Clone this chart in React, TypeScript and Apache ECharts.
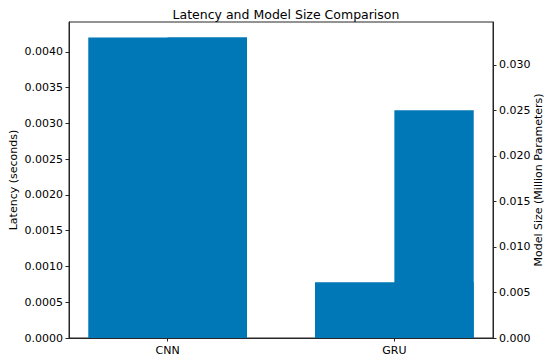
import React, { useEffect, useRef } from "react";
import * as echarts from "echarts";

const categories = ["CNN", "GRU"];
const latency = [0.0042, 0.00078];
const modelSize = [0.033, 0.025];
const latencyTicks = [0, 0.0005, 0.001, 0.0015, 0.002, 0.0025, 0.003, 0.0035, 0.004];
const sizeTicks = [0, 0.005, 0.01, 0.015, 0.02, 0.025, 0.03];

const BAR_COLOR = "#0077b6";
const FONT = "DejaVu Sans";

export default function App() {
  const ref = useRef<HTMLDivElement>(null);
  useEffect(() => {
    if (!ref.current) return;
    const chart = echarts.init(ref.current, undefined, { renderer: "svg" });
    const latMax = Math.max(...latency) * 1.0514;
    const sizeMax = Math.max(...modelSize) * 1.0514;
    const n = categories.length;
    const xMin = -0.35 - 0.05 * (n - 1 + 0.7);
    const xMax = n - 1 + 0.35 + 0.05 * (n - 1 + 0.7);
    const latData = latency.map((v, i) => [i - 0.35, i + 0.35, v]);
    const sizeData = modelSize.map((v, i) => [i, i + 0.35, v]);
    const renderRect = (params: any, api: any) => {
      const x0 = api.value(0);
      const x1 = api.value(1);
      const v = api.value(2);
      const p0 = api.coord([x0, 0]);
      const p1 = api.coord([x1, v]);
      return {
        type: "rect",
        shape: { x: p0[0], y: p1[1], width: p1[0] - p0[0], height: p0[1] - p1[1] },
        style: { fill: BAR_COLOR },
      };
    };
    const axisLineStyle = { color: "#262626", width: 1 };
    const labelStyle = { fontFamily: FONT, fontSize: 11, color: "#000" };
    chart.setOption({
      animation: false,
      title: {
        text: "Latency and Model Size Comparison",
        left: 281,
        top: 3,
        textAlign: "center",
        textStyle: { fontFamily: FONT, fontSize: 12.5, fontWeight: "normal", color: "#000" },
      },
      grid: {
        left: 69,
        right: 57,
        top: 22,
        bottom: 24,
        show: true,
        borderColor: "#262626",
        borderWidth: 1,
        containLabel: false,
        outerBoundsMode: "none",
      },
      xAxis: {
        type: "value",
        min: xMin,
        max: xMax,
        splitLine: { show: false },
        axisLine: { show: true, onZero: false, lineStyle: axisLineStyle },
        axisTick: { show: true, length: 3.5, inside: false, customValues: categories.map((_, i) => i), lineStyle: axisLineStyle },
        axisLabel: {
          customValues: categories.map((_, i) => i),
          formatter: (v: number) => categories[Math.round(v)] ?? "",
          ...labelStyle,
          margin: 7,
        },
      },
      yAxis: [
        {
          type: "value",
          min: 0,
          max: latMax,
          position: "left",
          name: "Latency (seconds)",
          nameLocation: "middle",
          nameGap: 50,
          nameRotate: 90,
          nameMoveOverlap: false,
          nameTextStyle: labelStyle,
          splitLine: { show: false },
          axisLine: { show: true, onZero: false, lineStyle: axisLineStyle },
          axisTick: { show: true, length: 3.5, customValues: latencyTicks, lineStyle: axisLineStyle },
          axisLabel: {
            customValues: latencyTicks,
            formatter: (v: number) => v.toFixed(4),
            ...labelStyle,
            margin: 6,
          },
        },
        {
          type: "value",
          min: 0,
          max: sizeMax,
          position: "right",
          name: "Model Size (Million Parameters)",
          nameLocation: "middle",
          nameGap: 40,
          nameRotate: 90,
          nameMoveOverlap: false,
          nameTextStyle: labelStyle,
          splitLine: { show: false },
          axisLine: { show: true, onZero: false, lineStyle: axisLineStyle },
          axisTick: { show: true, length: 3.5, customValues: sizeTicks, lineStyle: axisLineStyle },
          axisLabel: {
            customValues: sizeTicks,
            formatter: (v: number) => v.toFixed(3),
            ...labelStyle,
            margin: 6,
          },
        },
      ],
      series: [
        {
          name: "Latency",
          type: "custom",
          yAxisIndex: 0,
          renderItem: renderRect,
          encode: { x: [0, 1], y: 2 },
          data: latData,
        },
        {
          name: "Model Size",
          type: "custom",
          yAxisIndex: 1,
          renderItem: renderRect,
          encode: { x: [0, 1], y: 2 },
          data: sizeData,
        },
      ],
    });
    return () => chart.dispose();
  }, []);
  return (
    <div
      ref={ref}
      style={{ position: "absolute", left: 0, top: 0, width: 550, height: 362, background: "#fff" }}
    />
  );
}
